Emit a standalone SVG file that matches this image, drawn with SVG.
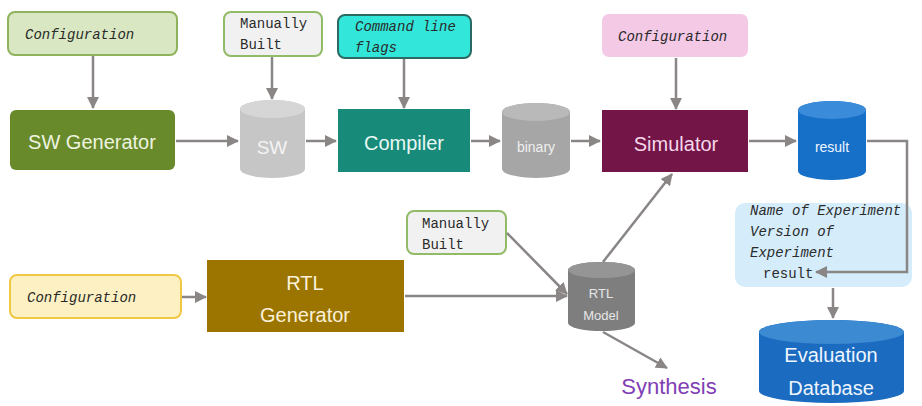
<svg xmlns="http://www.w3.org/2000/svg" width="922" height="406" viewBox="0 0 922 406">
<defs>
<marker id="ah" viewBox="0 0 12 12" refX="11" refY="6" markerWidth="12" markerHeight="12" markerUnits="userSpaceOnUse" orient="auto">
<path d="M0,0 L12,6 L0,12 z" fill="#8a8686"/>
</marker>
<style>
.mono{font-family:"Liberation Mono","DejaVu Sans Mono",monospace;font-size:14px;fill:#2a2a2a;}
.it{font-style:italic;}
.lbl{font-family:"Liberation Sans","Arial",sans-serif;text-anchor:middle;}
.conn line,.conn polyline{stroke:#8a8686;stroke-width:2.5;fill:none;marker-end:url(#ah);}
</style>
</defs>
<rect width="922" height="406" fill="#ffffff"/>

<g id="config1">
<rect x="8" y="12" width="169" height="43" rx="7" fill="#d9e8c2" stroke="#8fb35c" stroke-width="2"/>
<text class="mono it" x="25" y="39">Configuration</text>
</g>
<g id="manual1">
<rect x="224" y="12" width="98" height="44" rx="7" fill="#f1f1f1" stroke="#92bb68" stroke-width="2"/>
<text class="mono" x="240" y="28">Manually</text>
<text class="mono" x="240" y="49">Built</text>
</g>
<g id="cmdflags">
<rect x="338" y="15" width="133" height="43" rx="7" fill="#33e6da" stroke="#2b6a62" stroke-width="2"/>
<text class="mono it" x="355" y="31">Command line</text>
<text class="mono it" x="355" y="52">flags</text>
</g>
<g id="config_sim">
<rect x="602" y="14" width="146" height="43" rx="7" fill="#f3c9e5"/>
<text class="mono it" x="618" y="41">Configuration</text>
</g>

<g id="swgen">
<rect x="10" y="110" width="165" height="60" rx="6" fill="#688a2a"/>
<text class="lbl" x="92" y="149" font-size="20" fill="#eef4e0">SW Generator</text>
</g>
<g id="sw">
<path d="M240,109 a32.5,9 0 0 1 65,0 v60 a32.5,9 0 0 1 -65,0 z" fill="#c6c6c6"/>
<ellipse cx="272.5" cy="109" rx="32.5" ry="9" fill="#d6d6d6"/>
<text class="lbl" x="272" y="154" font-size="19" fill="#f4f4f4">SW</text>
</g>
<g id="compiler">
<rect x="338" y="109" width="132" height="63" fill="#188a7a"/>
<text class="lbl" x="404" y="150" font-size="20" fill="#e8f8f4">Compiler</text>
</g>
<g id="binary">
<path d="M502,112 a34,9 0 0 1 68,0 v57 a34,9 0 0 1 -68,0 z" fill="#a6a6a6"/>
<ellipse cx="536" cy="112" rx="34" ry="9" fill="#b9b9b9"/>
<text class="lbl" x="536" y="152" font-size="14" fill="#f0f0f0">binary</text>
</g>
<g id="simulator">
<rect x="602" y="110" width="146" height="62" fill="#741548"/>
<text class="lbl" x="676" y="151" font-size="20" fill="#f4d8ea">Simulator</text>
</g>
<g id="result">
<path d="M798,110 a34,9 0 0 1 68,0 v61 a34,9 0 0 1 -68,0 z" fill="#1670c8"/>
<ellipse cx="832" cy="110" rx="34" ry="9" fill="#3a8bd9"/>
<text class="lbl" x="832" y="152" font-size="14" fill="#f0f6ff">result</text>
</g>

<g id="expinfo">
<rect x="735" y="203" width="177" height="84" rx="10" fill="#d5ecfa"/>
<text class="mono it" x="750" y="215">Name of Experiment</text>
<text class="mono it" x="750" y="236">Version of</text>
<text class="mono it" x="750" y="257">Experiment</text>
<text class="mono" x="763" y="278">result</text>
</g>
<g id="evaldb">
<path d="M759,332 a72.5,12 0 0 1 145,0 v59 a72.5,12 0 0 1 -145,0 z" fill="#1b6cc0"/>
<ellipse cx="831.5" cy="332" rx="72.5" ry="12" fill="#3b8ad2"/>
<text class="lbl" x="831" y="362" font-size="20" fill="#eef5ff">Evaluation</text>
<text class="lbl" x="831" y="395" font-size="20" fill="#eef5ff">Database</text>
</g>

<g id="config_rtl">
<rect x="10" y="275" width="171" height="43" rx="7" fill="#fdf0c2" stroke="#f0c844" stroke-width="2"/>
<text class="mono it" x="27" y="302">Configuration</text>
</g>
<g id="rtlgen">
<rect x="207" y="260" width="197" height="72" fill="#9b7500"/>
<text class="lbl" x="305" y="290" font-size="20" fill="#fbf1d8">RTL</text>
<text class="lbl" x="305" y="322" font-size="20" fill="#fbf1d8">Generator</text>
</g>
<g id="manual2">
<rect x="407" y="211" width="99" height="43" rx="7" fill="#f1f1f1" stroke="#92bb68" stroke-width="2"/>
<text class="mono" x="422" y="228">Manually</text>
<text class="mono" x="422" y="249">Built</text>
</g>
<g id="rtlmodel">
<path d="M568,270 a33.5,8 0 0 1 67,0 v53 a33.5,8 0 0 1 -67,0 z" fill="#7e7e7e"/>
<ellipse cx="601.5" cy="270" rx="33.5" ry="8" fill="#959595"/>
<text class="lbl" x="601" y="298" font-size="13" fill="#e6e6e6">RTL</text>
<text class="lbl" x="601" y="320" font-size="13" fill="#e6e6e6">Model</text>
</g>
<g id="synthesis">
<text class="lbl" x="669" y="394" font-size="22" fill="#8040b4">Synthesis</text>
</g>

<g class="conn">
<line x1="93" y1="56" x2="93" y2="108"/>
<line x1="272" y1="57" x2="272" y2="99"/>
<line x1="404" y1="59" x2="404" y2="108"/>
<line x1="676" y1="58" x2="676" y2="109"/>
<line x1="176" y1="141" x2="238" y2="141"/>
<line x1="306" y1="141" x2="336" y2="141"/>
<line x1="471" y1="141" x2="500" y2="141"/>
<line x1="571" y1="141" x2="600" y2="141"/>
<line x1="749" y1="141" x2="796" y2="141"/>
<polyline points="867,141 907,141 907,272 816,272"/>
<line x1="833" y1="288" x2="833" y2="318"/>
<line x1="182" y1="297" x2="206" y2="297"/>
<line x1="405" y1="296" x2="567" y2="296"/>
<line x1="507" y1="233" x2="567" y2="294"/>
<line x1="603" y1="262" x2="672" y2="174"/>
<line x1="603" y1="332" x2="667" y2="368"/>
</g>
</svg>
